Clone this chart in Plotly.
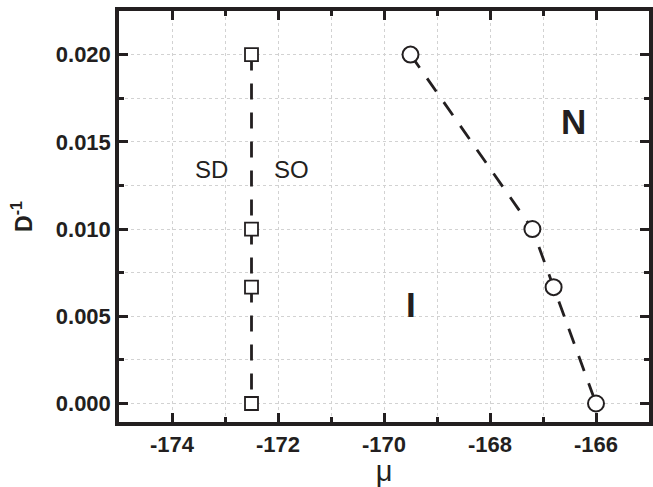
import plotly.graph_objects as go

# Phase boundary data: chemical potential mu vs inverse particle size D^-1
so_sd_mu = [-172.5, -172.5, -172.5, -172.5]
so_sd_dinv = [0.020, 0.010, 0.00667, 0.000]

ni_mu = [-169.5, -167.2, -166.8, -166.0]
ni_dinv = [0.020, 0.010, 0.00667, 0.000]

x_ticks = [-174, -172, -170, -168, -166]
y_ticks = [0.000, 0.005, 0.010, 0.015, 0.020]

phase_labels = ["SD", "SO", "N", "I"]
phase_mu = [-173.26, -171.74, -166.42, -169.5]
phase_dinv = [0.01344, 0.01344, 0.01616, 0.0057]

ink = "#231f20"
font_family = "Liberation Sans, Arial, sans-serif"
dash_pattern = "16px,13px"

fig = go.Figure()

fig.add_trace(go.Scatter(
    x=so_sd_mu, y=so_sd_dinv, mode="lines+markers",
    line=dict(color=ink, width=2.8, dash=dash_pattern),
    marker=dict(symbol="square", size=13, color="white", line=dict(width=1.8, color=ink)),
    showlegend=False,
))
fig.add_trace(go.Scatter(
    x=ni_mu, y=ni_dinv, mode="lines+markers",
    line=dict(color=ink, width=2.8, dash=dash_pattern),
    marker=dict(symbol="circle", size=16, color="white", line=dict(width=2, color=ink)),
    showlegend=False,
))

for txt, xv, yv in zip(phase_labels, phase_mu, phase_dinv):
    bold = txt in ("N", "I")
    fig.add_annotation(
        x=xv, y=yv, text=f"<b>{txt}</b>" if bold else txt, showarrow=False,
        font=dict(family=font_family, size=35 if bold else 24, color=ink),
    )

grid_color = "#d2d2d2"

fig.update_xaxes(
    range=[-175, -165], tickvals=x_ticks, ticktext=[str(v) for v in x_ticks],
    ticks="inside", ticklen=9, tickwidth=3, tickcolor=ink,
    showline=True, linewidth=3.5, linecolor=ink, mirror="allticks",
    tickfont=dict(family=font_family, size=22, color=ink, weight="bold"),
    minor=dict(ticks="inside", ticklen=5, tickwidth=3, tickcolor=ink, dtick=1,
               tick0=-175, showgrid=True, gridcolor=grid_color, griddash="dot", gridwidth=1),
    title=dict(text="μ", font=dict(family=font_family, size=29, color=ink), standoff=4),
    zeroline=False, showgrid=True, gridcolor=grid_color, griddash="dot", gridwidth=1,
)
fig.update_yaxes(
    range=[-0.00106, 0.0225], tickvals=y_ticks, ticktext=[f"{v:.3f}" for v in y_ticks],
    ticks="inside", ticklen=9, tickwidth=3, tickcolor=ink,
    showline=True, linewidth=3.5, linecolor=ink, mirror="allticks",
    tickfont=dict(family=font_family, size=22, color=ink, weight="bold"),
    minor=dict(ticks="inside", ticklen=5, tickwidth=3, tickcolor=ink, dtick=0.0025,
               tick0=0, showgrid=True, gridcolor=grid_color, griddash="dot", gridwidth=1),
    title=dict(text="<b>D<sup>-1</sup></b>", font=dict(family=font_family, size=23, color=ink), standoff=18),
    zeroline=False, showgrid=True, gridcolor=grid_color, griddash="dot", gridwidth=1,
)

fig.update_layout(
    width=653, height=487,
    margin=dict(l=119, r=0, t=11, b=65),
    plot_bgcolor="white", paper_bgcolor="white",
)

fig.write_html("out.html")
